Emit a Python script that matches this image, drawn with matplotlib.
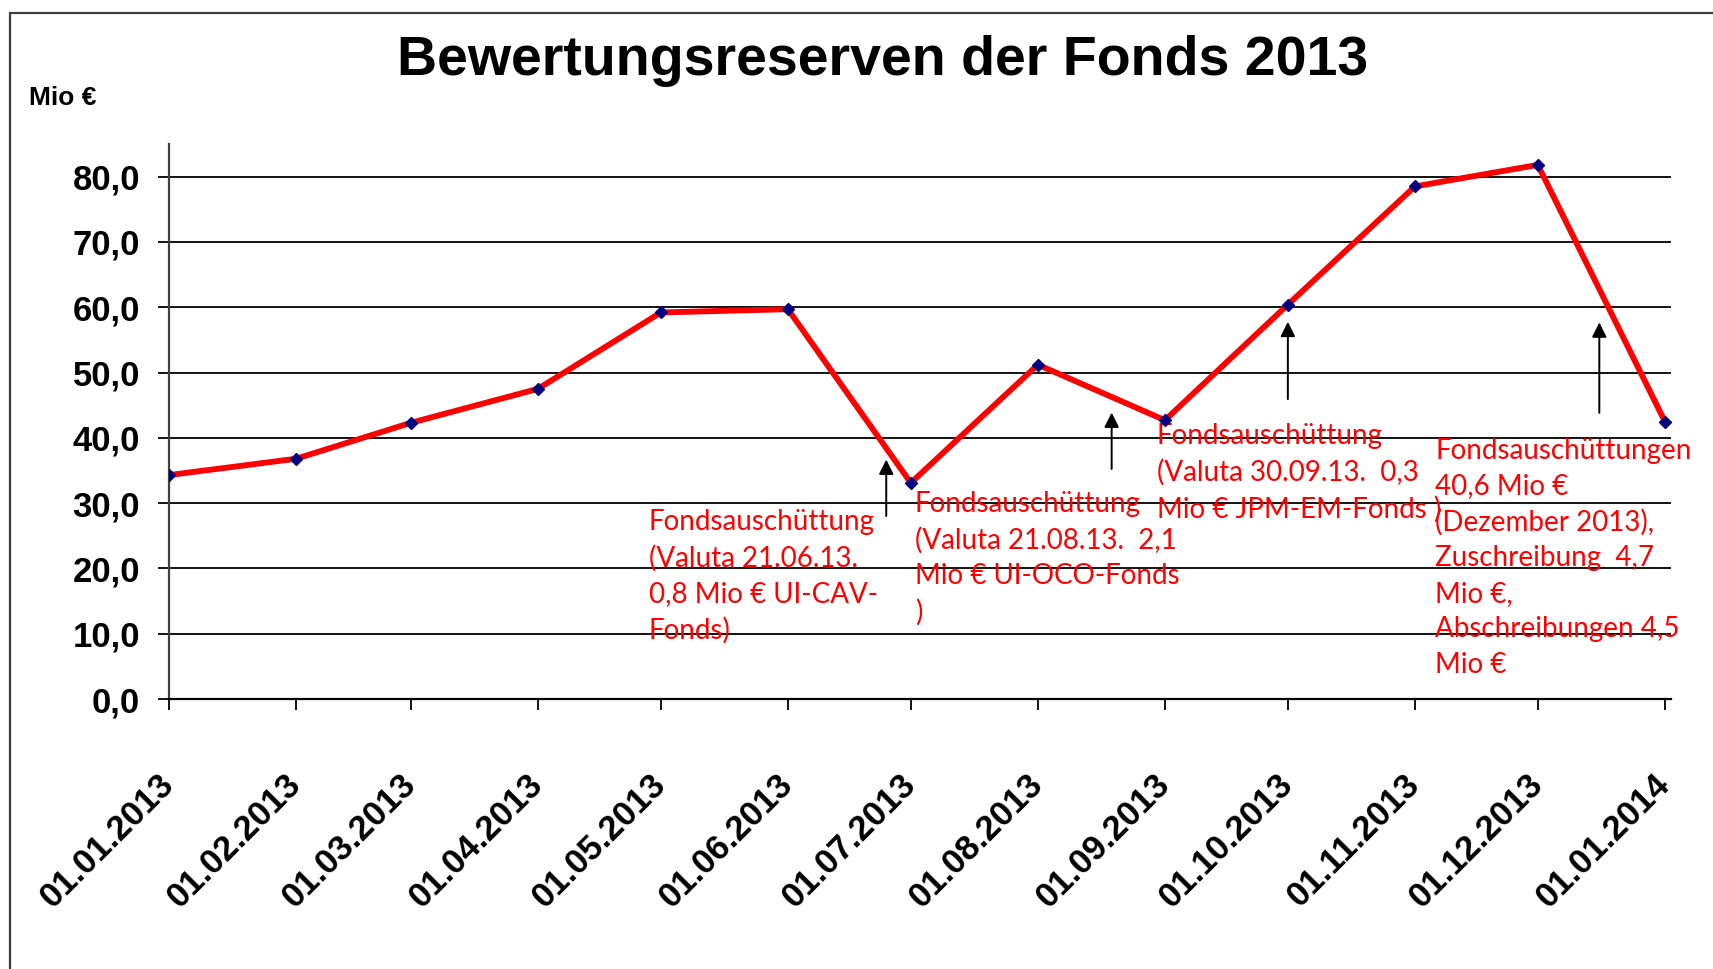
import pandas as pd
import matplotlib.pyplot as plt
import matplotlib.dates as mdates
from matplotlib.patches import Rectangle
from matplotlib.ticker import FuncFormatter

# Daten
dates = pd.date_range("2013-01-01", "2014-01-01", freq="MS")
werte = [34.3, 36.8, 42.3, 47.5, 59.2, 59.7, 33.1, 51.2, 42.7, 60.4, 78.5, 81.8, 42.5]
y_ticks = [0, 10, 20, 30, 40, 50, 60, 70, 80]

titel = "Bewertungsreserven der Fonds 2013"
einheit = "Mio €"

# Anmerkungen: Text, Textposition (Datum, Wert), Pfeil (Datum, Wert unten, Wert oben)
notizen = [
    ("Fondsauschüttung\n(Valuta 21.06.13.\n0,8 Mio € UI-CAV-\nFonds)", "2013-04-28", 29.1),
    ("Fondsauschüttung\n(Valuta 21.08.13.  2,1\nMio € UI-OCO-Fonds\n)", "2013-07-02", 31.9),
    ("Fondsauschüttung\n(Valuta 30.09.13.  0,3\nMio € JPM-EM-Fonds )", "2013-08-30", 42.3),
    ("Fondsauschüttungen\n40,6 Mio €\n(Dezember 2013),\nZuschreibung  4,7\nMio €,\nAbschreibungen 4,5\nMio €", "2013-11-06", 40.0),
]
pfeile = [
    ("2013-06-25", 27.6, 37.1),
    ("2013-08-19", 34.8, 44.3),
    ("2013-10-01", 45.5, 58.2),
    ("2013-12-16", 43.4, 58.1),
]

plt.rcParams['font.family'] = ['Liberation Sans', 'DejaVu Sans']

fig = plt.figure(figsize=(17.13, 9.69), dpi=100)
ax = fig.add_axes([0.0987, 0.2786, 0.8768, 0.5728])

# Rahmen um die Grafik
fig.patches.append(Rectangle((10 / 1713, -0.05), 1.1, 1 - 13 / 969 + 0.05,
                             transform=fig.transFigure, fill=False,
                             edgecolor='#404040', linewidth=1.6))

ax.plot(dates, werte, color='red', linewidth=4.2, zorder=3)
ax.plot(dates, werte, linestyle='none', marker='D', markersize=6.5,
        color='#000080', zorder=4)

ax.set_ylim(0, 85)
ax.set_xlim(pd.Timestamp("2013-01-01"), pd.Timestamp("2014-01-02 12:00"))
ax.set_yticks(y_ticks)
ax.yaxis.set_major_formatter(FuncFormatter(lambda v, p: f"{v:.1f}".replace(".", ",")))
ax.set_xticks(dates)
ax.xaxis.set_major_formatter(mdates.DateFormatter("%d.%m.%Y"))

for v in y_ticks[1:]:
    ax.axhline(v, color='black', linewidth=1.3, zorder=1)

for s in ['top', 'right']:
    ax.spines[s].set_visible(False)
ax.spines['left'].set_color('#404040')
ax.spines['left'].set_linewidth(1.6)
ax.spines['bottom'].set_linewidth(1.6)

ax.tick_params(axis='y', direction='out', length=8, width=1.3, pad=13,
               labelsize=25)
ax.tick_params(axis='x', direction='out', length=8, width=1.3, pad=50,
               labelsize=25)
for lab in ax.get_yticklabels():
    lab.set_fontweight('bold')
for lab in ax.get_xticklabels():
    lab.set_fontweight('bold')
    lab.set_rotation(45)
    lab.set_ha('right')
    lab.set_va('center')
    lab.set_rotation_mode('anchor')

fig.text(0.5155, 0.937, titel, ha='center', va='center', fontsize=40,
         fontweight='bold')
fig.text(0.017, 0.899, einheit, ha='left', va='center', fontsize=19,
         fontweight='bold')

for txt, d, y in notizen:
    ax.text(pd.Timestamp(d), y, txt, ha='left', va='top', color='red',
            fontsize=20, family=['Lato', 'DejaVu Sans'], linespacing=1.45,
            zorder=2)

for d, y0, y1 in pfeile:
    ax.annotate("", xy=(pd.Timestamp(d), y1), xytext=(pd.Timestamp(d), y0),
                arrowprops=dict(arrowstyle='-|>', color='black', lw=1.4,
                                mutation_scale=22), zorder=5)

plt.savefig("out.png", dpi=100)
